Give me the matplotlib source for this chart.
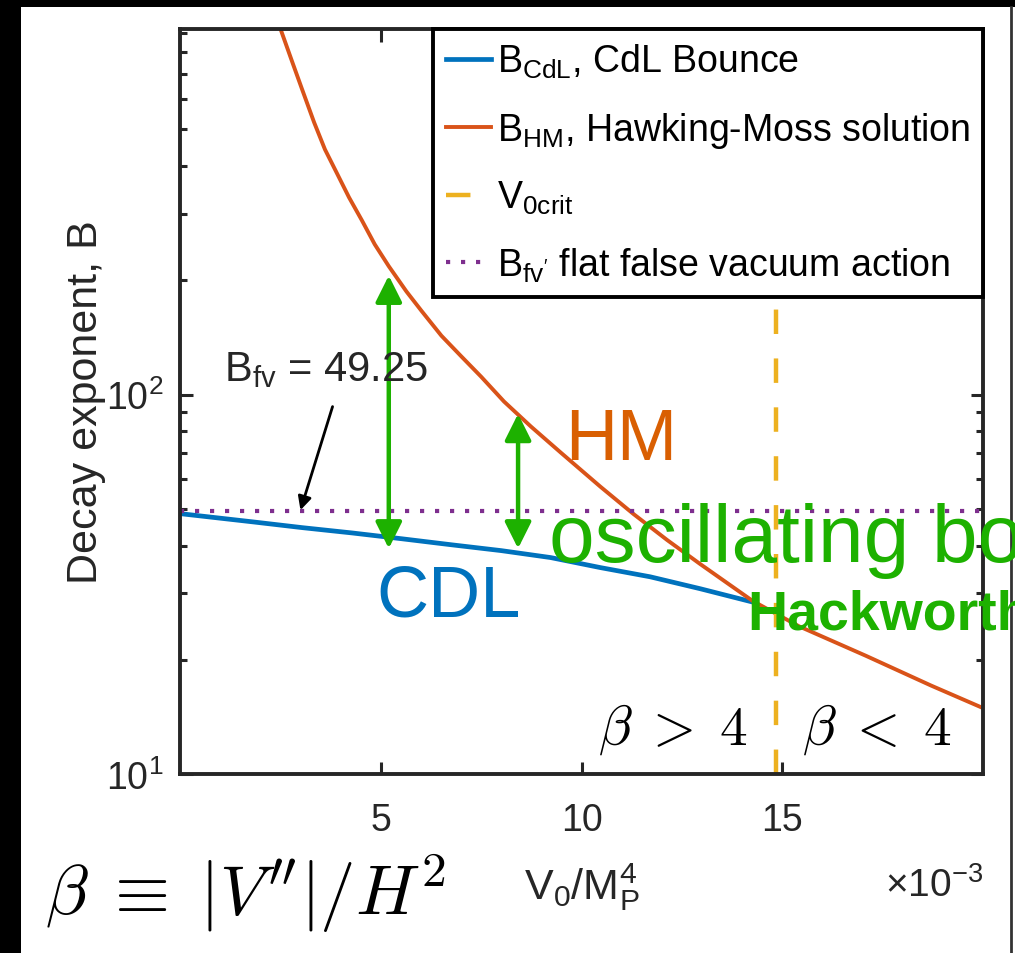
import matplotlib as mpl
mpl.use("Agg")
import matplotlib.pyplot as plt
import numpy as np
from matplotlib.patches import Rectangle
from matplotlib.lines import Line2D

plt.rcParams["font.family"] = ["Liberation Sans", "DejaVu Sans"]
plt.rcParams["mathtext.fontset"] = "custom"
plt.rcParams["mathtext.rm"] = "Liberation Sans"
plt.rcParams["mathtext.it"] = "Liberation Sans:italic"
plt.rcParams["mathtext.bf"] = "Liberation Sans:bold"

# --- data (x in units of 1e-3 V0/MP^4) ---
cdl_x = [0.05, 1.81, 3.05, 4.28, 5.52, 6.76, 8.0, 9.23, 10.47, 11.71, 12.95, 14.26]
cdl_y = [48.5, 46.2, 44.6, 43.2, 41.7, 40.2, 38.8, 37.2, 35.0, 33.1, 30.8, 28.4]

hm_x = [2.48, 2.80, 3.05, 3.34, 3.61, 3.91, 4.21, 4.53, 4.85, 5.20, 5.64, 6.02,
        6.51, 7.01, 7.50, 8.07, 8.74, 9.48, 10.47, 11.29, 12.13, 12.95, 14.26,
        15.42, 17.08, 18.71, 19.95]
hm_y = [935, 751, 634, 522, 443, 383, 331, 288, 249, 218, 187, 166,
        143, 126, 111.5, 95.9, 82.4, 70.4, 57.2, 48.5, 41.4, 35.8, 28.6,
        24.5, 20.5, 17.1, 15.0]

v0_crit = 14.85
b_fv = 49.25
x_range = [0.0, 20.0]

arrow_x = [5.2, 8.42]
arrow_lo = [39.3, 39.3]
arrow_hi = [206, 89]

labels = [r"B$_{\mathregular{CdL}}$, CdL Bounce",
          r"B$_{\mathregular{HM}}$, Hawking-Moss solution",
          r"V$_{\mathregular{0crit}}$",
          r"B$_{\mathregular{fv'}}$ flat false vacuum action"]

c_blue = "#0072BD"
c_orange = "#D95319"
c_yellow = "#EDB120"
c_purple = "#7E2F8E"
c_green = "#1DB100"
c_axis = "#262626"

W, H = 1015, 954
fig = plt.figure(figsize=(W / 100, H / 100), dpi=100)
fig.patch.set_facecolor("black")
fig.patches.append(Rectangle((21 / W, 0), 1 - 21 / W, 1 - 8 / H, transform=fig.transFigure,
                             facecolor="white", edgecolor="none", zorder=-10))
fig.add_artist(Line2D([1011 / W, 1011 / W], [0, 1 - 8 / H], transform=fig.transFigure,
                      color="#333333", lw=2, zorder=-5))

ax = fig.add_axes([180 / W, 1 - 775 / H, (983 - 180) / W, (775 - 30) / H])
ax.set_yscale("log")

ax.plot(cdl_x, cdl_y, color=c_blue, lw=3.4, label=labels[0])
ax.plot(hm_x, hm_y, color=c_orange, lw=2.8, label=labels[1])
ax.axvline(v0_crit, color=c_yellow, lw=3.2, dashes=(5.5, 5.5), label=labels[2])
ax.plot(x_range, [b_fv, b_fv], color=c_purple, lw=3.0, dashes=(1.0, 2.6), label=labels[3])

ax.set_xlim(*x_range)
ax.set_ylim(10, 920)
ax.set_xticks([5, 10, 15])
ax.set_xticklabels(["5", "10", "15"])

for sp in ax.spines.values():
    sp.set_linewidth(2.8)
    sp.set_color(c_axis)
ax.tick_params(which="both", direction="in", top=True, right=True, colors=c_axis,
               labelsize=27, width=2.2)
ax.tick_params(which="major", length=9, pad=20)
ax.tick_params(which="minor", length=5)
ax.tick_params(axis="y", pad=12)

ax.set_xlabel(r"V$_{\mathregular{0}}$/M$_{\mathregular{P}}^{\mathregular{4}}$", fontsize=31,
              color=c_axis, labelpad=16)
ax.set_ylabel("Decay exponent, B", fontsize=31, color=c_axis, labelpad=0)
ax.text(1.0, -0.164, r"$\times$10$^{\mathregular{-3}}$", transform=ax.transAxes,
        ha="right", va="baseline", fontsize=28, color=c_axis)

leg = ax.legend(loc="upper right", bbox_to_anchor=(1.0, 1.0), borderaxespad=0,
                fontsize=27, handlelength=1.2, handletextpad=0.15, labelspacing=0.78,
                borderpad=0.35, fancybox=False, framealpha=1, edgecolor="black")
leg.get_frame().set_linewidth(2.8)

# annotations
for xa, lo, hi in zip(arrow_x, arrow_lo, arrow_hi):
    ax.annotate("", xy=(xa, hi), xytext=(xa, lo),
                arrowprops=dict(arrowstyle="<|-|>", color=c_green, lw=3.2,
                                mutation_scale=40, shrinkA=0, shrinkB=0))

ax.annotate("", xy=(3.0, 49.6), xytext=(3.8, 93),
            arrowprops=dict(arrowstyle="-|>", color="black", lw=2, mutation_scale=20,
                            shrinkA=0, shrinkB=0))
ax.text(1.1, 109, r"B$_{\mathregular{fv}}$ = 49.25", fontsize=30, color=c_axis, va="baseline")

ax.text(9.6, 67.8, "HM", fontsize=52, color="#D95F02", va="baseline")
ax.text(4.9, 26.1, "CDL", fontsize=52, color=c_blue, va="baseline")
ax.text(9.2, 36.5, "oscillating bounce", fontsize=59, color=c_green, va="baseline",
        clip_on=False)
ax.text(14.12, 24.2, "Hackworth", fontsize=40, color=c_green, fontweight="bold",
        va="baseline", clip_on=False)

ax.text(10.4, 12.0, r"$\beta\;>\;4$", fontsize=40, math_fontfamily="cm", va="baseline")
ax.text(15.5, 12.0, r"$\beta\;<\;4$", fontsize=40, math_fontfamily="cm", va="baseline")
fig.text(45 / W, 1 - 915 / H, r"$\beta\;\equiv\;|V''|/H^2$", fontsize=51,
         math_fontfamily="cm", va="baseline")

fig.savefig("out.png", dpi=100, facecolor=fig.get_facecolor())
